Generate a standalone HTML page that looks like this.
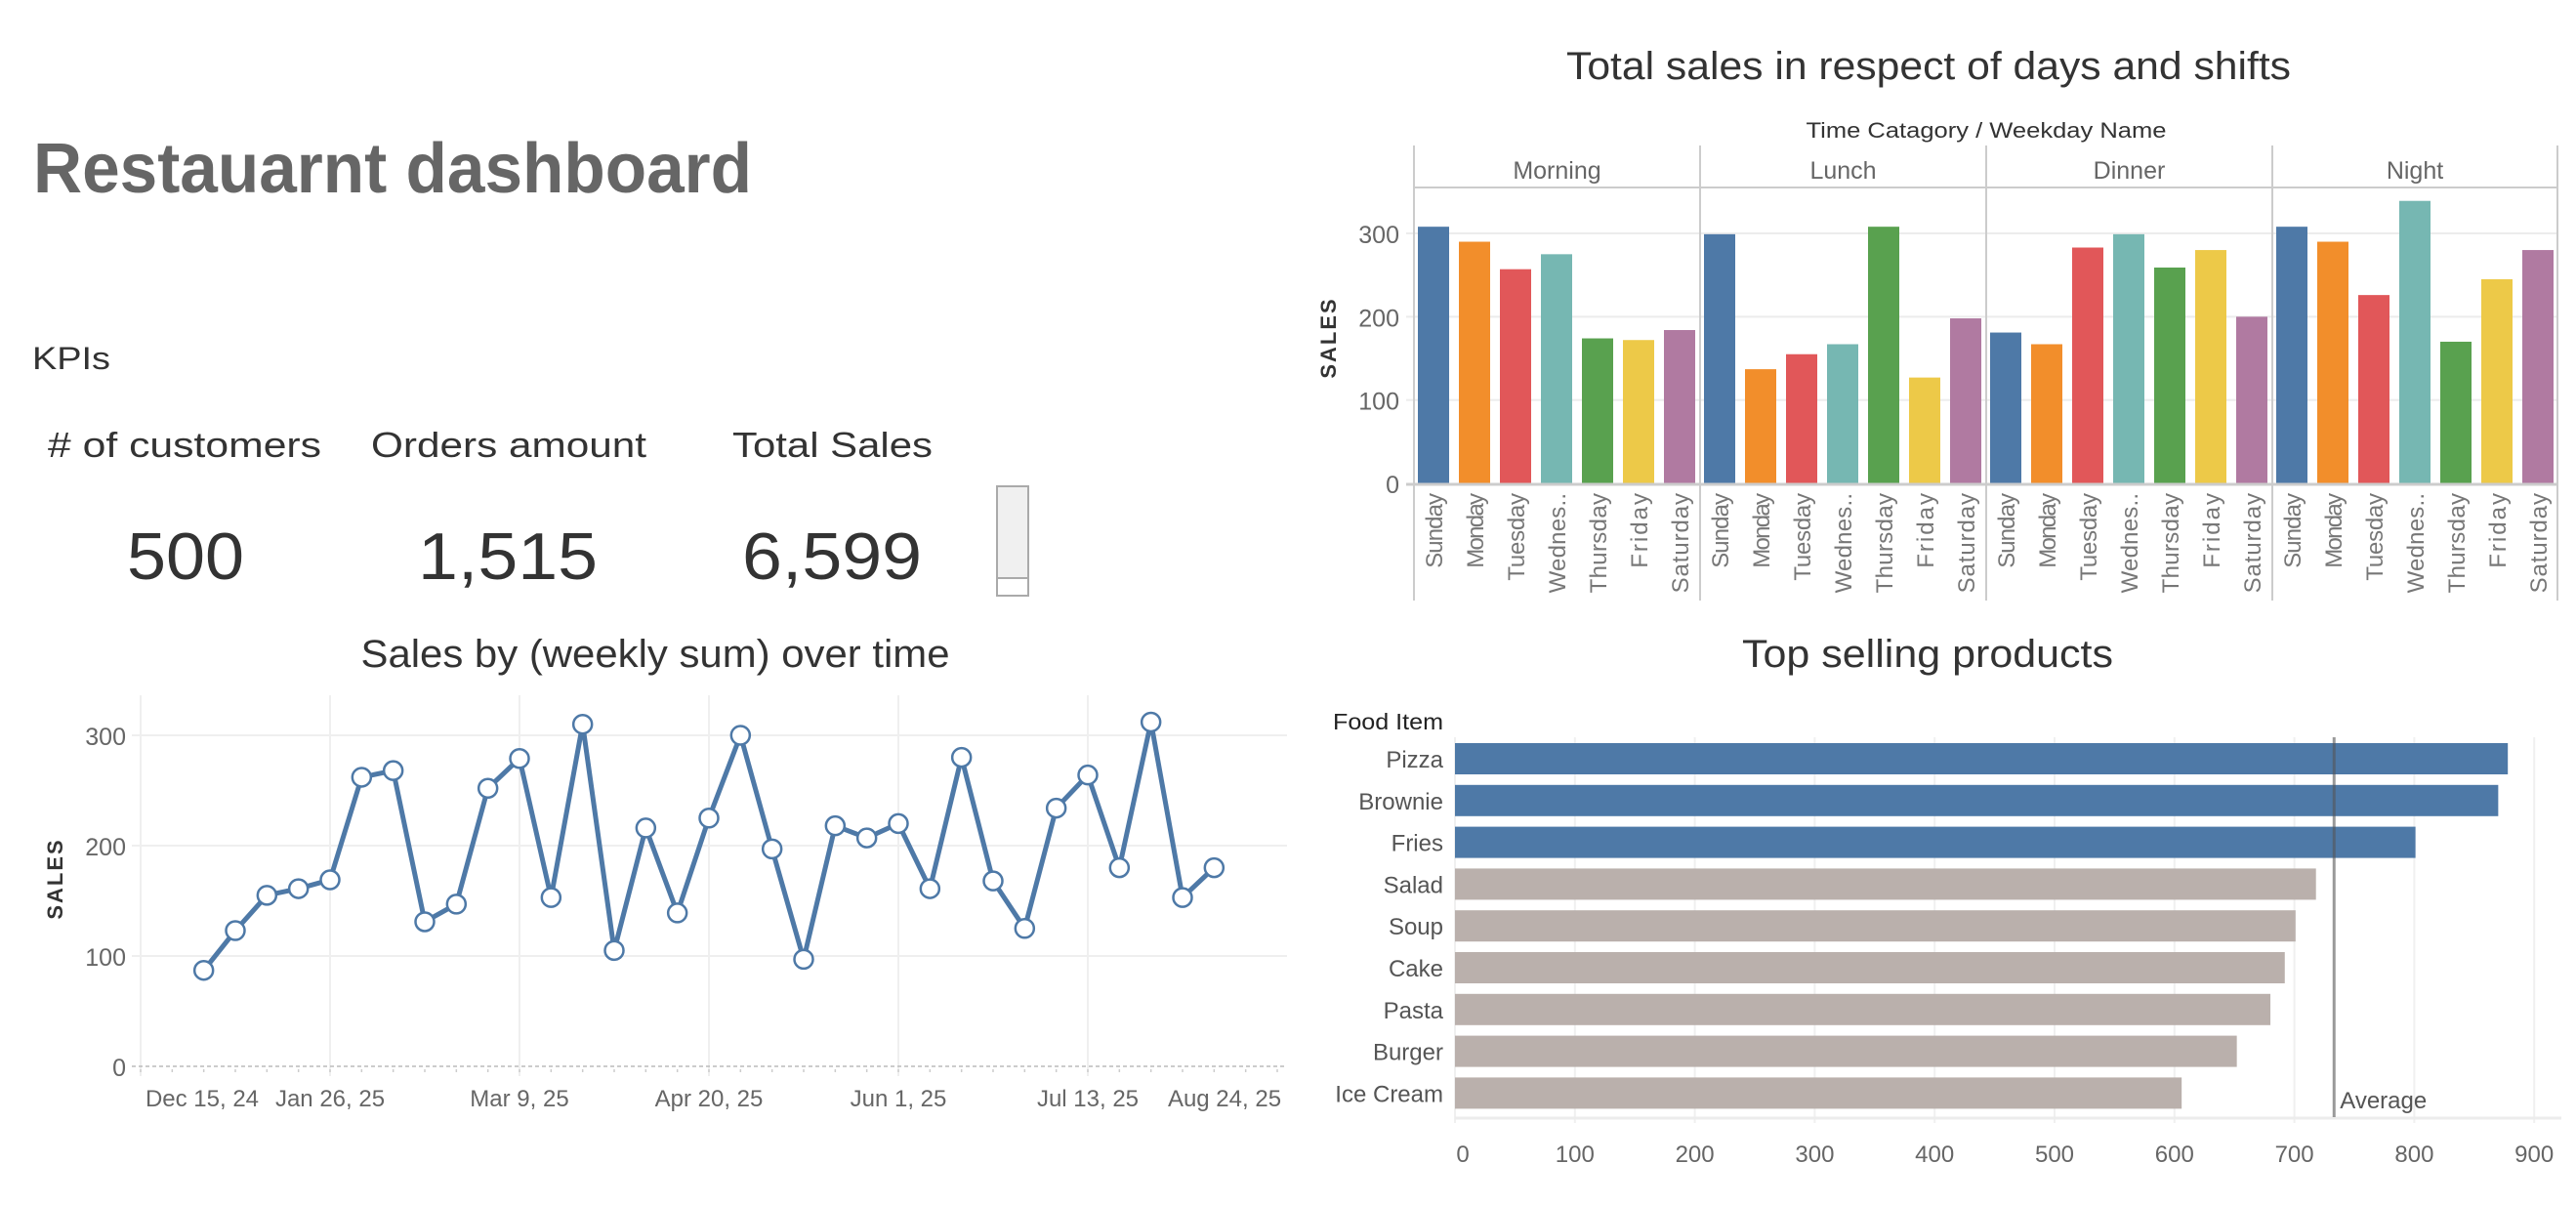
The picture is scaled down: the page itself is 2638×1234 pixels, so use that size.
<!DOCTYPE html>
<html><head><meta charset="utf-8"><style>
html,body{margin:0;padding:0;background:#fff;}
svg{display:block;font-family:"Liberation Sans",sans-serif;}
</style></head><body>
<svg id="root" width="2638" height="1234" viewBox="0 0 2638 1234" xmlns="http://www.w3.org/2000/svg">
<rect width="2638" height="1234" fill="#fff"/>
<text x="34" y="197" font-size="72" font-weight="bold" fill="#666" textLength="736" lengthAdjust="spacingAndGlyphs">Restauarnt dashboard</text>
<text x="33" y="378" font-size="32" fill="#333" textLength="80" lengthAdjust="spacingAndGlyphs">KPIs</text>
<text x="49" y="468" font-size="36" fill="#333" textLength="280" lengthAdjust="spacingAndGlyphs"># of customers</text>
<text x="380" y="468" font-size="36" fill="#333" textLength="282" lengthAdjust="spacingAndGlyphs">Orders amount</text>
<text x="750" y="468" font-size="36" fill="#333" textLength="205" lengthAdjust="spacingAndGlyphs">Total Sales</text>
<text x="130" y="593" font-size="68" fill="#333" textLength="120" lengthAdjust="spacingAndGlyphs">500</text>
<text x="428" y="593" font-size="68" fill="#333" textLength="184" lengthAdjust="spacingAndGlyphs">1,515</text>
<text x="760" y="593" font-size="68" fill="#333" textLength="184" lengthAdjust="spacingAndGlyphs">6,599</text>
<g>
<rect x="1021" y="498" width="32" height="112" fill="#f0f0f0" stroke="#aaa" stroke-width="2"/>
<rect x="1021" y="592" width="32" height="18" fill="#fff" stroke="#aaa" stroke-width="2"/>
</g>

<text x="1975" y="81" font-size="40" fill="#333" text-anchor="middle" textLength="742" lengthAdjust="spacingAndGlyphs">Total sales in respect of days and shifts</text>
<text x="2034" y="141" font-size="22" fill="#333" text-anchor="middle" textLength="369" lengthAdjust="spacingAndGlyphs">Time Catagory  /  Weekday Name</text>
<g id="barsTop"></g>

<text x="671" y="683" font-size="40" fill="#333" text-anchor="middle" textLength="603" lengthAdjust="spacingAndGlyphs">Sales by (weekly sum) over time</text>
<g id="lineChart"></g>

<text x="1974" y="683" font-size="40" fill="#333" text-anchor="middle" textLength="380" lengthAdjust="spacingAndGlyphs">Top selling products</text>
<text x="1365" y="747" font-size="23" fill="#222" textLength="113" lengthAdjust="spacingAndGlyphs">Food Item</text>
<g id="hbar"></g>
</svg>
<script>
// ---- Shift chart data ----
const shifts = ["Morning","Lunch","Dinner","Night"];
const days = ["Sunday","Monday","Tuesday","Wednes..","Thursday","Friday","Saturday"];
const dayColors = ["#4e79a7","#f28e2b","#e15759","#76b7b2","#59a14f","#edc948","#b07aa1"];
const morningSales = [308,290,257,275,174,172,184];
const lunchSales = [299,137,155,167,308,127,198];
const dinnerSales = [181,167,283,299,259,280,200];
const nightSales = [308,290,226,339,170,245,280];
const shiftTicks = [0,100,200,300];

// ---- Line chart data ----
const weekIndex = [2,3,4,5,6,7,8,9,10,11,12,13,14,15,16,17,18,19,20,21,22,23,24,25,26,27,28,29,30,31,32,33,34];
const weeklySales = [87,123,155,161,169,262,268,131,147,252,279,153,310,105,216,139,225,300,197,97,218,207,220,161,280,168,125,234,264,180,312,153,180];
const lineTicks = [0,100,200,300];
const dateLabels = ["Dec 15, 24","Jan 26, 25","Mar 9, 25","Apr 20, 25","Jun 1, 25","Jul 13, 25","Aug 24, 25"];
const dateLabelWeeks = [0,6,12,18,24,30,36];

// ---- Products data ----
const products = ["Pizza","Brownie","Fries","Salad","Soup","Cake","Pasta","Burger","Ice Cream"];
const productSales = [878,870,801,718,701,692,680,652,606];
const productTicks = [0,100,200,300,400,500,600,700,800,900];

const NS="http://www.w3.org/2000/svg";
function mk(parent,tag,attrs,text){const e=document.createElementNS(NS,tag);for(const k in attrs)e.setAttribute(k,attrs[k]);if(text!==undefined)e.textContent=text;parent.appendChild(e);return e;}

// ===== Shift bar chart =====
(function(){
  const g=document.getElementById('barsTop');
  const panelX=[1448,1741,2034,2327,2619];
  const y0=495;
  const ys=v=>y0-v*(495-239)/300;
  const series=[morningSales,lunchSales,dinnerSales,nightSales];
  shiftTicks.forEach(t=>{
    if(t>0){const l=mk(g,'line',{x1:1440,x2:2619,y1:ys(t),y2:ys(t),stroke:'#ececec','stroke-width':2});
    
    }
    const tx=mk(g,'text',{x:1433,y:ys(t)+10,'font-size':25,fill:'#666','text-anchor':'end'},String(t));
    
    
  });
  const yl=mk(g,'text',{x:0,y:0,'font-size':22,'font-weight':'bold',fill:'#333','text-anchor':'middle',transform:'translate(1368,346) rotate(-90)','letter-spacing':'2'},'SALES');
  
  
  mk(g,'line',{x1:1448,x2:2619,y1:192,y2:192,stroke:'#ccc','stroke-width':2});
  panelX.forEach(px=>{mk(g,'line',{x1:px,x2:px,y1:149,y2:615,stroke:'#ccc','stroke-width':2});});
  shifts.forEach((s,p)=>{
    const t=mk(g,'text',{x:(panelX[p]+panelX[p+1])/2,y:183,'font-size':25,fill:'#666','text-anchor':'middle'},s);
    
    
    series[p].forEach((v,j)=>{
      const cx=panelX[p]+20+j*42;
      const r=mk(g,'rect',{x:cx-16,y:ys(v),width:32,height:y0-ys(v),fill:dayColors[j]});
      
      
      const dl=mk(g,'text',{x:0,y:0,'font-size':24,fill:'#777','text-anchor':'end',textLength:days[j].length*12.8,lengthAdjust:'spacing',transform:`translate(${cx+9},505) rotate(-90)`},days[j]);
      
      
    });
  });
  mk(g,'line',{x1:1440,x2:2619,y1:496,y2:496,stroke:'#ccc','stroke-width':3});
})();

// ===== Line chart =====
(function(){
  const g=document.getElementById('lineChart');
  const x0=144, wk=(338-144)/6, yb=1092, py=(1092-753)/300;
  const xs=w=>x0+w*wk, ys=v=>yb-v*py;
  dateLabelWeeks.slice(0,6).forEach(w=>mk(g,'line',{x1:xs(w),x2:xs(w),y1:712,y2:1102,stroke:'#efefef','stroke-width':2}));
  lineTicks.forEach(t=>{
    if(t>0) mk(g,'line',{x1:135,x2:1318,y1:ys(t),y2:ys(t),stroke:'#efefef','stroke-width':2});
    const tx=mk(g,'text',{x:129,y:ys(t)+10,'font-size':25,fill:'#666','text-anchor':'end'},String(t));
    
    
  });
  mk(g,'line',{x1:135,x2:1318,y1:yb,y2:yb,stroke:'#bbb','stroke-width':1.5,'stroke-dasharray':'4 3'});
  for(let w=0;w<=36;w++) mk(g,'line',{x1:xs(w),x2:xs(w),y1:1095,y2:1098,stroke:'#ccc','stroke-width':1.5});
  dateLabels.forEach((d,i)=>{
    let cx=xs(dateLabelWeeks[i]);
    if(i===0) cx=207; if(i===6) cx=1254;
    const t=mk(g,'text',{x:cx,y:1133,'font-size':24,fill:'#666','text-anchor':'middle'},d);
    
    
  });
  const yl=mk(g,'text',{x:0,y:0,'font-size':22,'font-weight':'bold',fill:'#333','text-anchor':'middle',transform:'translate(64,900) rotate(-90)','letter-spacing':'2'},'SALES');
  
  
  const pts=weekIndex.map((w,i)=>xs(w)+','+ys(weeklySales[i])).join(' ');
  const pl=mk(g,'polyline',{points:pts,fill:'none',stroke:'#4e79a7','stroke-width':5,'stroke-linejoin':'round'});
  
  
  weekIndex.forEach((w,i)=>{
    const c=mk(g,'circle',{cx:xs(w),cy:ys(weeklySales[i]),r:9.5,fill:'#fff',stroke:'#4e79a7','stroke-width':2.5});
    
    
  });
})();

// ===== Products bar chart =====
(function(){
  const g=document.getElementById('hbar');
  const x0=1490, sx=1.228;
  const xs=v=>x0+v*sx;
  productTicks.forEach(t=>{
    mk(g,'line',{x1:xs(t),x2:xs(t),y1:755,y2:1150,stroke:'#f0f0f0','stroke-width':2});
    const tx=mk(g,'text',{x:xs(t)+(t===0?8:0),y:1190,'font-size':24,fill:'#666','text-anchor':'middle'},String(t));
    
    
  });
  mk(g,'line',{x1:1490,x2:2623,y1:1145,y2:1145,stroke:'#ececec','stroke-width':3});
  const avg=productSales.reduce((a,b)=>a+b,0)/productSales.length;
  products.forEach((p,i)=>{
    const y=761+i*42.8;
    const r=mk(g,'rect',{x:x0,y:y,width:xs(productSales[i])-x0,height:32,fill:productSales[i]>avg?'#4e79a7':'#bab0ac'});
    
    
    const t=mk(g,'text',{x:1478,y:y+25,'font-size':24,fill:'#555','text-anchor':'end'},p);
    
    
  });
  const al=mk(g,'line',{x1:xs(avg),x2:xs(avg),y1:755,y2:1144,stroke:'#555','stroke-opacity':0.6,'stroke-width':3});
  
  
  const at=mk(g,'text',{x:xs(avg)+6,y:1135,'font-size':24,fill:'#555'},'Average');
  
  
})();
</script>
</body></html>
